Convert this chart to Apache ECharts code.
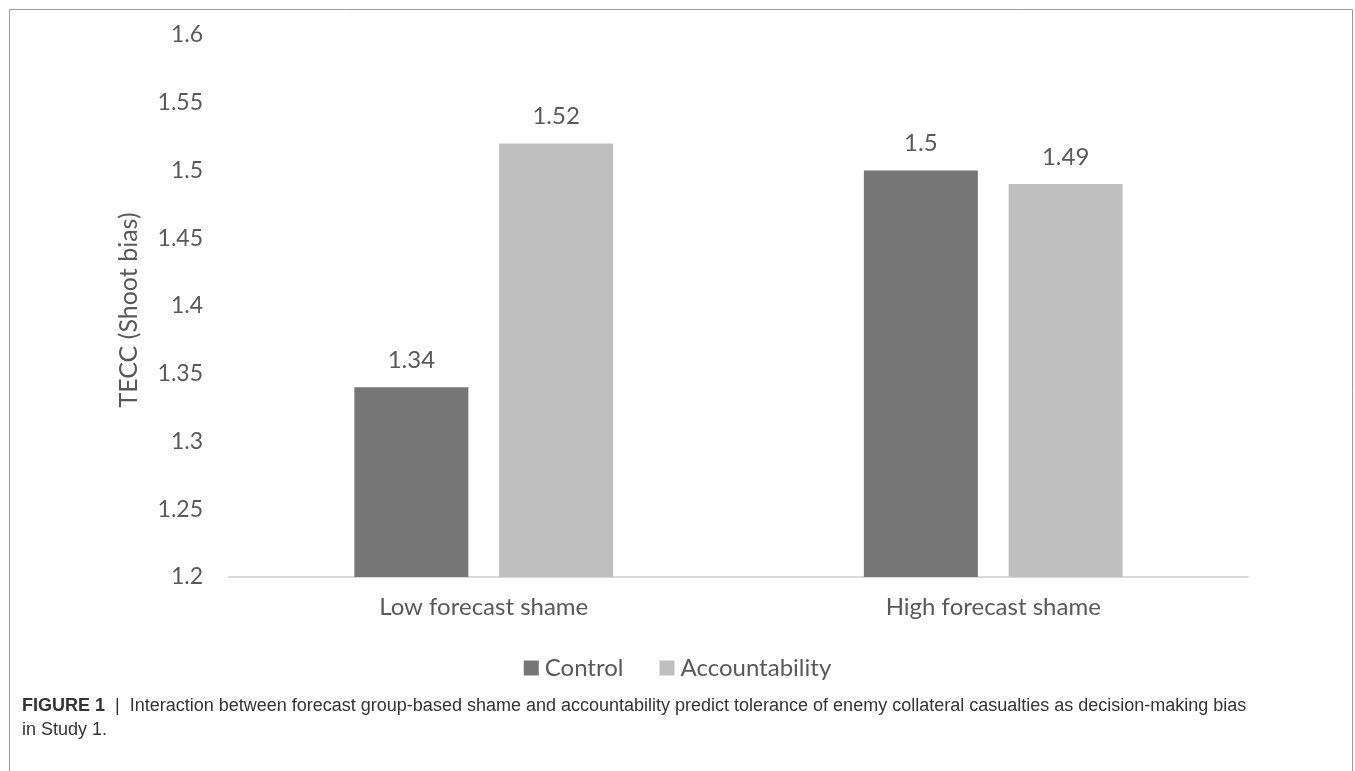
<!DOCTYPE html>
<html>
<head>
<meta charset="utf-8">
<script src="https://cdn.jsdelivr.net/npm/echarts@6/dist/echarts.min.js"></script>
<style>
  html, body { margin: 0; padding: 0; background: #fff; }
  #chart { width: 1355px; height: 771px; }
</style>
</head>
<body>
<div id="chart"></div>
<script>
// Groups on the x axis
const categories = ['Low forecast shame', 'High forecast shame'];
// Mean TECC (shoot bias) per condition
const controlValues = [1.34, 1.5];
const accountabilityValues = [1.52, 1.49];
const seriesNames = ['Control', 'Accountability'];
const captionLabel = 'FIGURE 1';
const captionLine1 = 'Interaction between forecast group-based shame and accountability predict tolerance of enemy collateral casualties as decision-making bias';
const captionLine2 = 'in Study 1.';

const textColor = '#595959';
const uiFont = 'Lato';

const chart = echarts.init(document.getElementById('chart'));

const labelStyle = {
  show: true,
  position: 'top',
  distance: 15,
  color: textColor,
  fontFamily: uiFont,
  fontSize: 24
};

const captionFont = { fontFamily: 'Liberation Sans', fontSize: 18, fill: '#333333', lineHeight: 24 };

chart.setOption({
  animation: false,
  backgroundColor: '#ffffff',
  grid: { left: 229, right: 107, top: 35, bottom: 194 },
  xAxis: {
    type: 'category',
    data: categories,
    axisLine: { lineStyle: { color: '#d9d9d9', width: 2 } },
    axisTick: { show: false },
    axisLabel: { color: textColor, fontFamily: uiFont, fontSize: 24, margin: 18 }
  },
  yAxis: {
    type: 'value',
    min: 1.2,
    max: 1.6,
    interval: 0.05,
    name: 'TECC (Shoot bias)',
    nameLocation: 'middle',
    nameGap: 88,
    nameTextStyle: { color: textColor, fontFamily: uiFont, fontSize: 25, padding: [0, 8, 0, 0] },
    axisLine: { show: false },
    axisTick: { show: false },
    splitLine: { show: false },
    axisLabel: {
      color: textColor, fontFamily: uiFont, fontSize: 23, margin: 26,
      formatter: v => String(parseFloat(v.toFixed(2)))
    }
  },
  legend: {
    data: seriesNames,
    top: 651,
    left: 'center',
    icon: 'rect',
    itemWidth: 15,
    itemHeight: 15,
    itemGap: 36,
    textStyle: { color: textColor, fontFamily: uiFont, fontSize: 24, padding: [0, 0, 0, 1] }
  },
  series: [
    {
      name: seriesNames[0],
      type: 'bar',
      data: controlValues,
      barWidth: 114,
      barGap: '27%',
      itemStyle: { color: '#767676' },
      label: labelStyle
    },
    {
      name: seriesNames[1],
      type: 'bar',
      data: accountabilityValues,
      barWidth: 114,
      itemStyle: { color: '#bfbfbf' },
      label: labelStyle
    }
  ],
  graphic: [
    {
      type: 'rect',
      shape: { x: 9.5, y: 9.5, width: 1343, height: 800 },
      style: { fill: 'none', stroke: '#9a9a9a', lineWidth: 1 },
      silent: true
    },
    {
      type: 'text',
      left: 22,
      top: 697,
      style: {
        text: '{b|' + captionLabel + '}{sep||}{n|' + captionLine1 + '}\n{n|' + captionLine2 + '}',
        rich: {
          b: Object.assign({}, captionFont, { fontWeight: 'bold' }),
          sep: Object.assign({}, captionFont, { padding: [0, 10, 0, 10] }),
          n: captionFont
        }
      }
    }
  ]
});
</script>
</body>
</html>
